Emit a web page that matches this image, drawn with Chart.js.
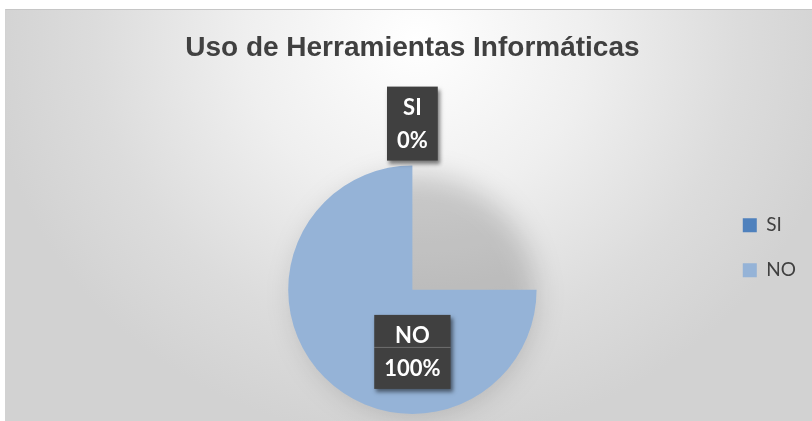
<!DOCTYPE html>
<html>
<head>
<meta charset="utf-8">
<script src="https://cdn.jsdelivr.net/npm/chart.js@4.4.1/dist/chart.umd.min.js"></script>
<style>
  html, body { margin: 0; padding: 0; background: #fff; width: 812px; height: 421px; overflow: hidden; }
  #frame {
    position: absolute; left: 5px; top: 9px; width: 806px; height: 411px;
    border-top: 1px solid #c6c6c6; border-left: 1px solid #d2d2d2;
    background: radial-gradient(ellipse 430px 400px at 411px 30px, #ffffff 0%, #efefef 40%, #dcdcdc 75%, #d2d2d2 100%);
  }
  #wrap { position: absolute; left: 0; top: 0; width: 812px; height: 421px; }
</style>
</head>
<body>
<div id="frame"></div>
<div id="wrap"><canvas id="usoChart"></canvas></div>
<script>
const chartTitle = 'Uso de Herramientas Informáticas';
const categories = ['SI', 'NO'];
const responses = [0, 100];
const sliceColors = ['#4f81bd', '#95b3d7'];

// soft shadow under the pie (shows through the empty quarter)
const pieShadow = {
    id: 'pieShadow',
    beforeDatasetsDraw(chart) {
        const arc = chart.getDatasetMeta(0).data[0];
        if (!arc) return;
        const ctx = chart.ctx;
        ctx.save();
        ctx.filter = 'blur(14px)';
        ctx.fillStyle = 'rgba(0,0,0,0.17)';
        ctx.beginPath();
        ctx.arc(arc.x + 3, arc.y + 5, arc.outerRadius - 4, 0, Math.PI * 2);
        ctx.fill();
        ctx.restore();
    }
};

// dark boxes with category + percent, placed like Excel's best fit
const boxLabels = {
    id: 'boxLabels',
    afterDatasetsDraw(chart) {
        const meta = chart.getDatasetMeta(0);
        const ctx = chart.ctx;
        const total = responses.reduce((a, b) => a + b, 0);
        let before = 0;
        meta.data.forEach(function (arc, i) {
            const share = responses[i] / total;
            const angle = -Math.PI / 2 + (before + share / 2) * Math.PI * 2;
            before += share;
            const inside = share >= 0.05;
            const dist = inside ? arc.outerRadius * 0.5 : arc.outerRadius + 42;
            const cx = arc.x + Math.cos(angle) * dist;
            const cy = arc.y + Math.sin(angle) * dist;
            const lines = [categories[i], Math.round(share * 100) + '%'];

            ctx.save();
            ctx.font = 'bold 22px Lato, "Liberation Sans", sans-serif';
            const w = Math.max(...lines.map(t => ctx.measureText(t).width)) + 20;
            const h = 74;
            ctx.shadowColor = 'rgba(0,0,0,0.5)';
            ctx.shadowBlur = 4;
            ctx.shadowOffsetX = 2;
            ctx.shadowOffsetY = 3;
            ctx.fillStyle = '#404040';
            ctx.fillRect(cx - w / 2, cy - h / 2, w, h);
            ctx.shadowColor = 'transparent';
            if (inside) {
                ctx.fillStyle = 'rgba(255,255,255,0.25)';
                ctx.fillRect(cx - w / 2, cy - 5, w, 1);
            }
            ctx.fillStyle = '#ffffff';
            ctx.textAlign = 'center';
            ctx.textBaseline = 'middle';
            ctx.fillText(lines[0], cx, cy - 16);
            ctx.fillText(lines[1], cx, cy + 17);
            ctx.restore();
        });
    }
};

let ctx = document.getElementById('usoChart').getContext('2d');
let usoChart = new Chart(ctx, {
    type: 'pie',
    data: {
        labels: categories,
        datasets: [{
            data: responses,
            backgroundColor: sliceColors,
            borderWidth: 0,
            rotation: 90,
            circumference: 270
        }]
    },
    options: {
        responsive: true,
        maintainAspectRatio: false,
        animation: false,
        layout: { padding: { left: 108, right: 6, top: 0, bottom: 7 } },
        plugins: {
            title: {
                display: true,
                text: chartTitle,
                fullSize: false,
                color: '#404040',
                font: { family: '"Liberation Sans", Arial, sans-serif', size: 28, weight: 'bold' },
                padding: { top: 31, bottom: 101 }
            },
            legend: {
                position: 'right',
                title: { display: true, text: '', padding: { top: 33, bottom: 34 } },
                labels: {
                    boxWidth: 14,
                    boxHeight: 14,
                    padding: 26,
                    color: '#404040',
                    font: { family: 'Lato, "Liberation Sans", sans-serif', size: 19 }
                }
            },
            tooltip: { enabled: false }
        }
    },
    plugins: [pieShadow, boxLabels]
});
</script>
</body>
</html>
